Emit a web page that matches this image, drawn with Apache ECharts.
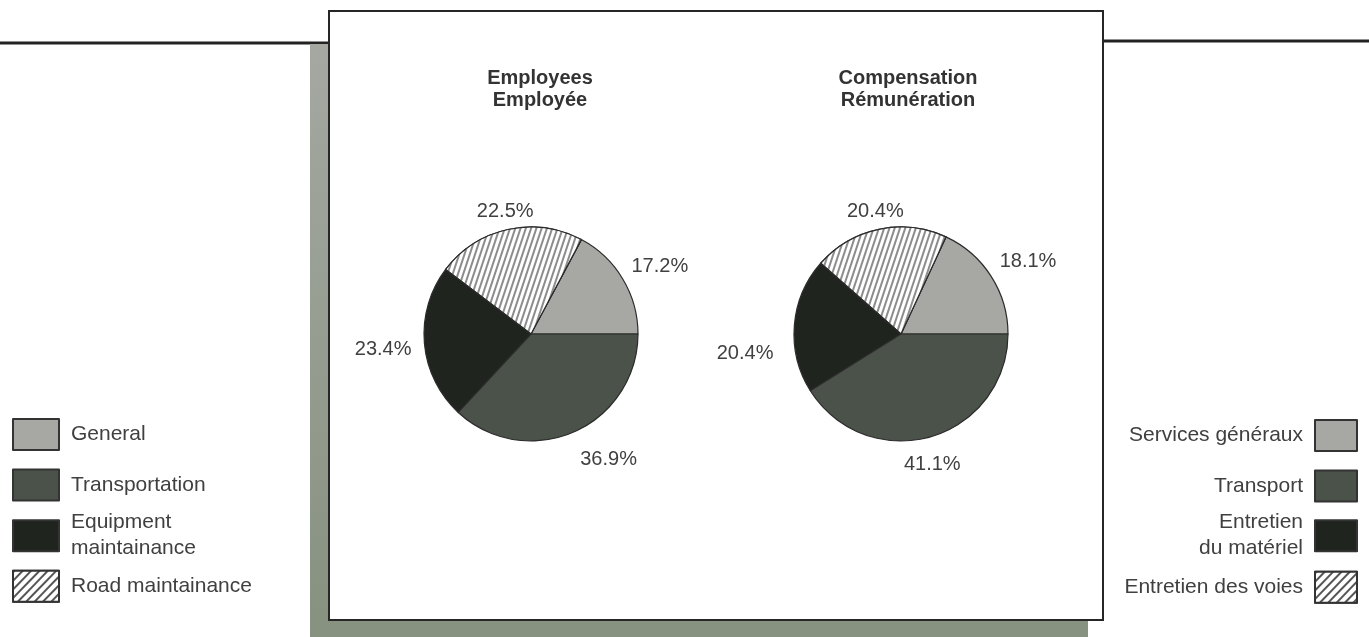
<!DOCTYPE html>
<html>
<head>
<meta charset="utf-8">
<script src="https://cdn.jsdelivr.net/npm/echarts@6/dist/echarts.min.js"></script>
<style>
  html, body { margin: 0; padding: 0; background: #fff; }
  #chart { width: 1369px; height: 637px; }
</style>
</head>
<body>
<div id="chart"></div>
<script>
// Slice order as drawn, counter-clockwise from 3 o'clock
const categories = ['General', 'Road maintainance', 'Equipment maintainance', 'Transportation'];
// Order of the legend entries, top to bottom
const legendOrder = ['General', 'Transportation', 'Equipment maintainance', 'Road maintainance'];
const legendEn = ['General', 'Transportation', 'Equipment\nmaintainance', 'Road maintainance'];
const legendFr = ['Services généraux', 'Transport', 'Entretien\ndu matériel', 'Entretien des voies'];
const employeesPct = [17.2, 22.5, 23.4, 36.9];
const compensationPct = [18.1, 20.4, 20.4, 41.1];
const pieTitles = ['Employees\nEmployée', 'Compensation\nRémunération'];

const FONT = '"Liberation Sans", Arial, Helvetica, sans-serif';
const TEXT = '#404040';

// hand-set label nudges (dx, dy) per slice, in slice order
const labelNudgeLeft = [[-10, -4], [34, -2], [8, 5], [-5, 13]];
const labelNudgeRight = [[-10, -6], [33, -2], [0, 30], [-36, 12]];

const pieHatch = {
  symbol: 'rect', symbolSize: 1, color: '#8c8c8c', backgroundColor: '#ffffff',
  dashArrayX: [1, 0], dashArrayY: [1.5, 2.5], rotation: -1.25
};
const legendHatch = {
  symbol: 'rect', symbolSize: 1, color: '#555', backgroundColor: '#ffffff',
  dashArrayX: [1, 0], dashArrayY: [1.5, 3.5], rotation: -0.8
};
const sliceStyle = {
  'General': { color: '#a7a8a3' },
  'Transportation': { color: '#4b5249' },
  'Equipment maintainance': { color: '#1f241f' },
  'Road maintainance': { color: '#ffffff', decal: pieHatch }
};

function pieData(values) {
  return categories.map((name, i) => ({
    name, value: values[i],
    itemStyle: Object.assign({ borderColor: '#2b2b2b', borderWidth: 1.2 }, sliceStyle[name])
  }));
}

function pieSeries(name, values, cx, nudge) {
  return {
    type: 'pie', name,
    center: [cx, 334], radius: 107,
    startAngle: 0, clockwise: false,
    data: pieData(values),
    label: {
      show: true, position: 'outside', formatter: '{c}%',
      fontFamily: FONT, fontSize: 20, color: TEXT
    },
    labelLine: { show: false, length: 16, length2: 0 },
    labelLayout: (p) => ({ dx: nudge[p.dataIndex][0], dy: nudge[p.dataIndex][1] }),
    emphasis: { disabled: true },
    silent: true, z: 3
  };
}

// One legend block per entry so the two-line names keep their own spacing
function legends(names, side) {
  return legendOrder.map((name, i) => {
    const multi = names[i].indexOf('\n') >= 0;
    const iconCenter = 434.5 + i * 50.6;
    let pad, textH;
    if (side === 'left') {
      pad = [8, 0, 0, 7];
      textH = (multi ? 52 : 26) + 8;
    } else {
      pad = multi ? [0, 7, 16, 0] : [0, 7, 0, 0];
      textH = multi ? 68 : 26;
    }
    const boxH = Math.max(31, textH);
    const item = { name, icon: 'rect' };
    if (name === 'Road maintainance') item.itemStyle = { decal: legendHatch };
    const lg = {
      data: [item], orient: 'vertical', selectedMode: false,
      top: iconCenter - boxH / 2,
      itemWidth: side === 'left' ? 46 : 42, itemHeight: 31,
      align: side,
      formatter: () => names[i],
      itemStyle: { borderColor: '#333', borderWidth: 2 },
      textStyle: { fontFamily: FONT, fontSize: 21, color: TEXT, lineHeight: 26, padding: pad },
      padding: 0
    };
    if (side === 'left') lg.left = 12; else lg.right = 11;
    return lg;
  });
}

const chart = echarts.init(document.getElementById('chart'), null, { renderer: 'canvas' });

chart.setOption({
  backgroundColor: '#ffffff',
  animation: false,
  title: pieTitles.map((t, i) => ({
    text: t, left: i === 0 ? 535 : 903, top: 62, textAlign: 'center',
    textStyle: { fontFamily: FONT, fontSize: 20, fontWeight: 'bold', color: '#333', lineHeight: 22 }
  })),
  legend: legends(legendEn, 'left').concat(legends(legendFr, 'right')),
  graphic: [
    // page rules either side of the panel
    { type: 'line', z: 0, shape: { x1: 0, y1: 43, x2: 330, y2: 43 }, style: { stroke: '#222', lineWidth: 3 } },
    { type: 'line', z: 0, shape: { x1: 1102, y1: 41, x2: 1369, y2: 41 }, style: { stroke: '#222', lineWidth: 3 } },
    // drop shadow behind the panel
    { type: 'rect', z: 0, shape: { x: 310, y: 44, width: 778, height: 600 },
      style: { fill: new echarts.graphic.LinearGradient(0, 0, 0, 1, [
        { offset: 0, color: '#a4a8a1' }, { offset: 1, color: '#86917f' }]) } },
    // panel
    { type: 'rect', z: 1, shape: { x: 329, y: 11, width: 774, height: 609 },
      style: { fill: '#ffffff', stroke: '#262626', lineWidth: 2 } }
  ],
  series: [
    pieSeries('Employees', employeesPct, 531, labelNudgeLeft),
    pieSeries('Compensation', compensationPct, 901, labelNudgeRight)
  ]
});
</script>
</body>
</html>
